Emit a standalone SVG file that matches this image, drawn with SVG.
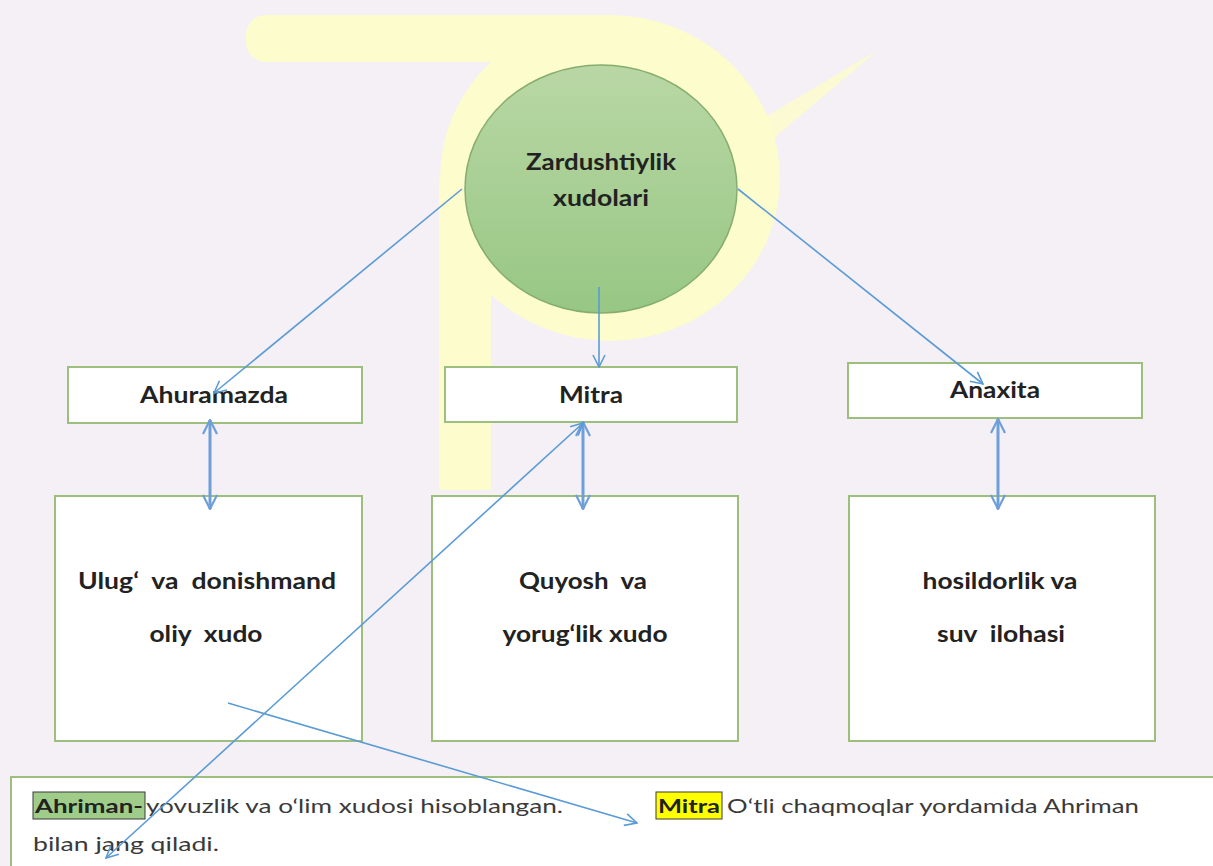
<svg xmlns="http://www.w3.org/2000/svg" width="1213" height="866" viewBox="0 0 1213 866">
<style>
.bg{fill:#f4f0f5}
.wm{fill:#fcfccd}
.box{fill:#ffffff;stroke:#9cbf7e;stroke-width:2}
.lbl{font-family:Lato,"Open Sans","Liberation Sans",sans-serif;font-weight:bold;font-size:22px;fill:#222222;text-anchor:middle}
.body{font-family:Lato,"Open Sans","Liberation Sans",sans-serif;font-size:19px;fill:#3a3a3a}
.bb{font-weight:bold;fill:#222222}
.con{fill:none;stroke:#5b9bd5;stroke-width:1.6}
.dbl{fill:none;stroke:#6f9fd8;stroke-width:3}
</style>
<defs>
<linearGradient id="gc" x1="0" y1="0" x2="0" y2="1">
<stop offset="0" stop-color="#b9d7a5"/>
<stop offset="1" stop-color="#97c784"/>
</linearGradient>
<marker id="ah" viewBox="0 0 14 14" refX="13" refY="7" markerWidth="14" markerHeight="14" markerUnits="userSpaceOnUse" orient="auto-start-reverse">
<path d="M1,1 L13,7 L1,13" fill="none" stroke="#5b9bd5" stroke-width="1.6"/>
</marker>
<marker id="ah2" viewBox="0 0 16 16" refX="15" refY="8" markerWidth="16" markerHeight="16" markerUnits="userSpaceOnUse" orient="auto-start-reverse">
<path d="M1,1 L15,8 L1,15" fill="none" stroke="#6f9fd8" stroke-width="2.2"/>
</marker>
</defs>
<rect class="bg" x="0" y="0" width="1213" height="866"/>
<g id="watermark">
<rect class="wm" x="246" y="15" width="380" height="47" rx="20"/>
<ellipse class="wm" cx="610" cy="178" rx="170" ry="163"/>
<rect class="wm" x="439" y="178" width="52" height="312"/>
<polygon class="wm" points="730,138 878,50 748,160" opacity="0.85"/>
</g>
<g id="node-center">
<ellipse cx="601" cy="189" rx="136" ry="124" fill="url(#gc)" stroke="#86ad6e" stroke-width="1.5"/>
<text class="lbl" x="601" y="170" textLength="150" lengthAdjust="spacingAndGlyphs" fill="#1c2a18">Zardushtiylik</text>
<text class="lbl" x="601" y="206" textLength="96" lengthAdjust="spacingAndGlyphs" fill="#1c2a18">xudolari</text>
</g>
<g id="node-ahuramazda">
<rect class="box" x="68" y="367" width="294" height="56"/>
<text class="lbl" x="214" y="403" textLength="148" lengthAdjust="spacingAndGlyphs">Ahuramazda</text>
</g>
<g id="node-mitra">
<rect class="box" x="445" y="367" width="292" height="55"/>
<text class="lbl" x="591" y="403" textLength="64" lengthAdjust="spacingAndGlyphs">Mitra</text>
</g>
<g id="node-anaxita">
<rect class="box" x="848" y="363" width="294" height="55"/>
<text class="lbl" x="995" y="398" textLength="90" lengthAdjust="spacingAndGlyphs">Anaxita</text>
</g>
<g id="node-ahuramazda-desc">
<rect class="box" x="55" y="496" width="307" height="245"/>
<text class="lbl" x="207" y="589" xml:space="preserve" textLength="258" lengthAdjust="spacingAndGlyphs">Ulug‘  va  donishmand</text>
<text class="lbl" x="206" y="642" xml:space="preserve" textLength="113" lengthAdjust="spacingAndGlyphs">oliy  xudo</text>
</g>
<g id="node-mitra-desc">
<rect class="box" x="432" y="496" width="306" height="245"/>
<text class="lbl" x="583" y="589" xml:space="preserve" textLength="128" lengthAdjust="spacingAndGlyphs">Quyosh  va</text>
<text class="lbl" x="585" y="642" textLength="165" lengthAdjust="spacingAndGlyphs">yorug‘lik xudo</text>
</g>
<g id="node-anaxita-desc">
<rect class="box" x="849" y="496" width="306" height="245"/>
<text class="lbl" x="1000" y="589" textLength="155" lengthAdjust="spacingAndGlyphs">hosildorlik va</text>
<text class="lbl" x="1001" y="642" xml:space="preserve" textLength="128" lengthAdjust="spacingAndGlyphs">suv  ilohasi</text>
</g>
<g id="node-note">
<rect class="box" x="11" y="777" width="1220" height="100"/>
<rect x="33" y="792" width="112" height="27" fill="#9fcd89" stroke="#3a3a3a" stroke-width="1"/>
<rect x="656" y="792" width="66" height="27" fill="#ffff00" stroke="#3a3a3a" stroke-width="1"/>
<text class="body bb" x="35" y="813" textLength="108" lengthAdjust="spacingAndGlyphs">Ahriman-</text>
<text class="body" x="146" y="813" textLength="417" lengthAdjust="spacingAndGlyphs">yovuzlik va o‘lim xudosi hisoblangan.</text>
<text class="body bb" x="658" y="813" textLength="62" lengthAdjust="spacingAndGlyphs">Mitra</text>
<text class="body" x="727" y="813" textLength="412" lengthAdjust="spacingAndGlyphs">O‘tli chaqmoqlar yordamida Ahriman</text>
<text class="body" x="33" y="851" textLength="186" lengthAdjust="spacingAndGlyphs">bilan jang qiladi.</text>
</g>
<g id="connectors">
<path class="con" d="M462,189 L214,393" marker-end="url(#ah)"/>
<path class="con" d="M599,287 L599,367" marker-end="url(#ah)"/>
<path class="con" d="M738,189 L983,384" marker-end="url(#ah)"/>
<path class="dbl" d="M210,420 L210,509" marker-start="url(#ah2)" marker-end="url(#ah2)"/>
<path class="dbl" d="M583,422 L583,509" marker-start="url(#ah2)" marker-end="url(#ah2)"/>
<path class="dbl" d="M998,419 L998,509" marker-start="url(#ah2)" marker-end="url(#ah2)"/>
<path class="con" d="M106,858 L583,423" marker-start="url(#ah)" marker-end="url(#ah)"/>
<path class="con" d="M228,703 L637,823" marker-end="url(#ah)"/>
</g>
</svg>
